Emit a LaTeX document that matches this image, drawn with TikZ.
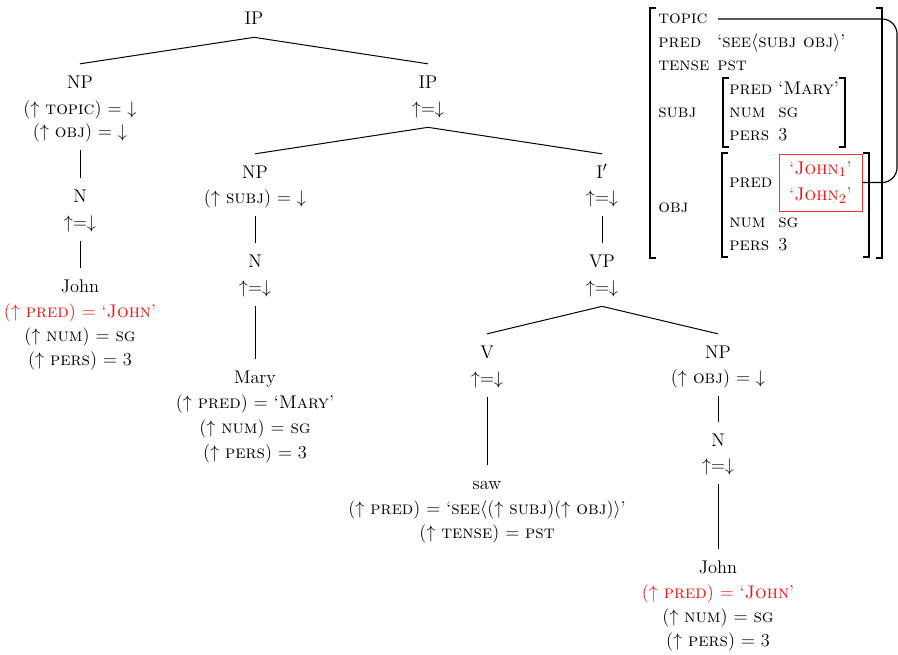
\documentclass[tikz,border=0pt]{standalone}
\usetikzlibrary{calc}
\definecolor{fred}{RGB}{240,16,16}
\newcommand{\myUA}{$\uparrow$}
\newcommand{\myDA}{$\downarrow$}
\newcommand{\myUD}{$\uparrow$=$\downarrow$}
\begin{document}
\begin{tikzpicture}[x=0.6pt,y=-0.6pt,
  every node/.style={font=\fontsize{11}{13.2}\selectfont},
  t/.style={inner sep=0pt,text height=0.9em,text depth=0.25em,outer ysep=5.5pt,anchor=base},
  tr/.style={t,text=fred},
  av/.style={inner sep=0pt,anchor=base west},
  edge/.style={line width=0.6pt},
  brk/.style={line width=1.2pt}]
\useasboundingbox (0,0) rectangle (898,654);

% ---------------- tree ----------------
\node[t] (ip1) at (254,24) {IP};

\node[t] (npA)  at (80,88)  {NP};
\node[t] (npA1) at (80,114) {(\myUA\ \textsc{topic}) = \myDA};
\node[t] (npA2) at (80,137) {(\myUA\ \textsc{obj}) = \myDA};
\node[t] (nA)   at (80,202) {N};
\node[t] (nA1)  at (80,228) {\myUD};
\node[t] (jA)   at (80,292) {John};
\node[tr] (jA1) at (80,317) {(\myUA\ \textsc{pred}) = `\textsc{John}'};
\node[t] (jA2)  at (80,341) {(\myUA\ \textsc{num}) = \textsc{sg}};
\node[t] (jA3)  at (80,365) {(\myUA\ \textsc{pers}) = 3};

\node[t] (ip2)  at (428,88)  {IP};
\node[t] (ip2a) at (428,114) {\myUD};

\node[t] (npB)  at (255,178) {NP};
\node[t] (npB1) at (255,203) {(\myUA\ \textsc{subj}) = \myDA};
\node[t] (nB)   at (255,267) {N};
\node[t] (nB1)  at (255,293) {\myUD};
\node[t] (mary)  at (255,383) {Mary};
\node[t] (mary1) at (255,408) {(\myUA\ \textsc{pred}) = `\textsc{Mary}'};
\node[t] (mary2) at (255,433) {(\myUA\ \textsc{num}) = \textsc{sg}};
\node[t] (mary3) at (255,458) {(\myUA\ \textsc{pers}) = 3};

\node[t] (ibar)  at (602,178) {I$'$};
\node[t] (ibar1) at (602,203) {\myUD};
\node[t] (vp)    at (602,267) {VP};
\node[t] (vp1)   at (602,293) {\myUD};

\node[t] (v)    at (487,358) {V};
\node[t] (v1)   at (487,384) {\myUD};
\node[t] (saw)  at (487,489) {saw};
\node[t] (saw1) at (487,514) {(\myUA\ \textsc{pred}) = `\textsc{see}$\langle$(\myUA\ \textsc{subj})(\myUA\ \textsc{obj})$\rangle$'};
\node[t] (saw2) at (487,538) {(\myUA\ \textsc{tense}) = \textsc{pst}};

\node[t] (npC)  at (718,358) {NP};
\node[t] (npC1) at (718,383) {(\myUA\ \textsc{obj}) = \myDA};
\node[t] (nC)   at (718,446) {N};
\node[t] (nC1)  at (718,471) {\myUD};
\node[t] (jC)   at (718,573) {John};
\node[tr] (jC1) at (718,598) {(\myUA\ \textsc{pred}) = `\textsc{John}'};
\node[t] (jC2)  at (718,622) {(\myUA\ \textsc{num}) = \textsc{sg}};
\node[t] (jC3)  at (718,646) {(\myUA\ \textsc{pers}) = 3};

\draw[edge] (ip1.south) -- (npA.north);
\draw[edge] (ip1.south) -- (ip2.north);
\draw[edge] (npA2.south) -- (nA.north);
\draw[edge] (nA1.south) -- (jA.north);
\draw[edge] (ip2a.south) -- (npB.north);
\draw[edge] (ip2a.south) -- (ibar.north);
\draw[edge] (npB1.south) -- (nB.north);
\draw[edge] (nB1.south) -- (mary.north);
\draw[edge] (ibar1.south) -- (vp.north);
\draw[edge] (vp1.south) -- (v.north);
\draw[edge] (vp1.south) -- (npC.north);
\draw[edge] (v1.south) -- (saw.north);
\draw[edge] (npC1.south) -- (nC.north);
\draw[edge] (nC1.south) -- (jC.north);

% ---------------- f-structure ----------------
\node[av] (aTopic) at (658,23) {\textsc{topic}};
\node[av] (aPred)  at (658,47) {\textsc{pred}};
\node[av] (vPred)  at (717,47) {`\textsc{see}$\langle$\textsc{subj obj}$\rangle$'};
\node[av] (aTense) at (658,70) {\textsc{tense}};
\node[av] (vTense) at (717,70) {\textsc{pst}};
\node[av] (aSubj)  at (658,117) {\textsc{subj}};
\node[av] (aObj)   at (658,212) {\textsc{obj}};

\node[av] (sPred) at (729,94)  {\textsc{pred}};
\node[av] (sPredV) at (778,94) {`\textsc{Mary}'};
\node[av] (sNum)  at (729,117) {\textsc{num}};
\node[av] (sNumV) at (778,117) {\textsc{sg}};
\node[av] (sPers) at (729,140) {\textsc{pers}};
\node[av] (sPersV) at (778,140) {3};

\node[av] (oPred) at (729,187) {\textsc{pred}};
\node[av] (oNum)  at (729,227) {\textsc{num}};
\node[av] (oNumV) at (778,227) {\textsc{sg}};
\node[av] (oPers) at (729,250) {\textsc{pers}};
\node[av] (oPersV) at (778,250) {3};

\node[draw=fred!85,line width=0.6pt,text=fred,align=center,inner sep=0pt,
      minimum width=49.8pt,minimum height=34.2pt,
      font=\fontsize{11}{16}\selectfont] (jbox) at (820.5,182.5)
      {`\textsc{John}$_1$'\\`\textsc{John}$_2$'};

% brackets
\draw[brk] (656,8) -- (650,8) -- (650,258) -- (656,258);
\draw[brk] (876,8) -- (882,8) -- (882,258) -- (876,258);
\draw[brk] (729,78) -- (723,78) -- (723,147) -- (729,147);
\draw[brk] (839,78) -- (845,78) -- (845,147) -- (839,147);
\draw[brk] (728,153) -- (722,153) -- (722,257) -- (728,257);
\draw[brk] (863,153) -- (869,153) -- (869,257) -- (863,257);

% topic link
\coordinate (topicv) at (718,19);
\coordinate (tcorner) at (897,19);
\draw[line width=0.7pt,rounded corners=9pt] (topicv) -- (tcorner) -- (tcorner |- jbox.east) -- (jbox.east);
\end{tikzpicture}
\end{document}
